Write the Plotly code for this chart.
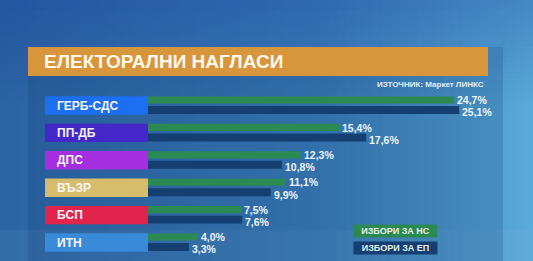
import plotly.graph_objects as go

parties = ["ГЕРБ-СДС", "ПП-ДБ", "ДПС", "ВЪЗР", "БСП", "ИТН"]
party_colors = ["#1c6ff0", "#4526c9", "#a52fe0", "#d6bd6c", "#e0244c", "#3a8ada"]
ns_values = [24.7, 15.4, 12.3, 11.1, 7.5, 4.0]
ep_values = [25.1, 17.6, 10.8, 9.9, 7.6, 3.3]
series_names = ["ИЗБОРИ ЗА НС", "ИЗБОРИ ЗА ЕП"]
series_colors = ["#2b8a52", "#143f70"]
title = "ЕЛЕКТОРАЛНИ НАГЛАСИ"
source = "ИЗТОЧНИК: Маркет ЛИНКС"

W, H = 533, 261
FONT = "Liberation Sans"

def fmt(v):
    return "<b>" + f"{v:.1f}".replace(".", ",") + "%</b>"

idx = list(range(len(parties)))

fig = go.Figure()

annotations = []
# bars
for vals, col, off, wd, lab_dy in [(ns_values, series_colors[0], -0.33, 0.26, -0.19),
                                   (ep_values, series_colors[1], 0.02, 0.29, 0.25)]:
    fig.add_trace(go.Bar(
        x=vals, y=idx, orientation="h",
        marker=dict(color=col, line=dict(width=0)),
        offset=off, width=wd,
        xaxis="x", yaxis="y", showlegend=False, cliponaxis=False,
    ))
    for i, v in enumerate(vals):
        annotations.append(dict(text=fmt(v), xref="x", yref="y", x=v, y=i + lab_dy,
                                xanchor="left", yanchor="middle", xshift=2,
                                showarrow=False, borderpad=0,
                                font=dict(family=FONT, size=10.5, color="#eef4fa")))

# party label boxes
fig.add_trace(go.Bar(
    x=[1] * len(parties), y=idx, orientation="h",
    marker=dict(color=party_colors, line=dict(width=0)),
    width=0.67, xaxis="x2", yaxis="y", showlegend=False,
))

shapes = []
def lerp(a, b, t):
    return tuple(int(round(a[i] + (b[i] - a[i]) * t)) for i in range(3))
left_c, mid_c, right_c = (44, 100, 164), (58, 126, 186), (88, 170, 216)
N = 60
for k in range(N):
    t = k / (N - 1)
    c = lerp(left_c, mid_c, t / 0.6) if t < 0.6 else lerp(mid_c, right_c, (t - 0.6) / 0.4)
    shapes.append(dict(type="rect", xref="paper", yref="paper",
                       x0=k / N, x1=(k + 1) / N + 0.002, y0=0, y1=1,
                       fillcolor="rgb(%d,%d,%d)" % c, line=dict(width=0), layer="below"))
M = 20
for k in range(M):
    a = 0.28 * (1 - k / M)
    shapes.append(dict(type="rect", xref="paper", yref="paper",
                       x0=0, x1=1, y0=1 - (k + 1) * 0.02, y1=1 - k * 0.02,
                       fillcolor="rgba(20,50,150,%.3f)" % a, line=dict(width=0), layer="below"))
shapes.append(dict(type="rect", xref="paper", yref="paper", x0=0, x1=1, y0=0, y1=0.12,
                   fillcolor="rgba(140,190,225,0.10)", line=dict(width=0), layer="below"))
shapes.append(dict(type="rect", xref="paper", yref="paper",
                   x0=28 / W, x1=503 / W, y0=0, y1=1 - 47 / H,
                   fillcolor="rgba(25,65,120,0.22)", line=dict(width=0), layer="below"))
shapes.append(dict(type="rect", xref="paper", yref="paper",
                   x0=28 / W, x1=488 / W, y0=1 - 76 / H, y1=1 - 47 / H,
                   fillcolor="#d8963c", line=dict(width=0), layer="below"))

annotations += [
    dict(text="<b>" + title + "</b>", xref="paper", yref="paper", x=42 / W, y=1 - 61.5 / H,
         xanchor="left", yanchor="middle", showarrow=False,
         font=dict(family=FONT, size=19, color="#fff8ec")),
    dict(text="<b>" + source + "</b>", xref="paper", yref="paper", x=486 / W, y=1 - 84 / H,
         xanchor="right", yanchor="middle", showarrow=False,
         font=dict(family=FONT, size=8, color="#e4eef6")),
]
for i, p in enumerate(parties):
    annotations.append(dict(text="<b>" + p + "</b>", xref="paper", yref="y",
                            x=55 / W, y=i, xanchor="left", yanchor="middle",
                            showarrow=False,
                            font=dict(family=FONT, size=12, color="#f4f4f4")))
leg_y = [230.5, 247.5]
for name, col, yy in zip(series_names, series_colors, leg_y):
    annotations.append(dict(text="<b>" + name + "</b>", xref="paper", yref="paper",
                            x=353 / W, y=1 - yy / H, xanchor="left", yanchor="middle",
                            showarrow=False, bgcolor=col, width=81, height=10,
                            align="center", borderpad=1,
                            font=dict(family=FONT, size=9, color="#e8f2ea")))

px_per = 12.4
x0px = 148
yc0, ystep = 105.5, 27.4

fig.update_layout(
    width=W, height=H, margin=dict(l=0, r=0, t=0, b=0),
    paper_bgcolor="#3a7eb8", plot_bgcolor="rgba(0,0,0,0)",
    barmode="overlay", shapes=shapes, annotations=annotations,
    xaxis=dict(domain=[x0px / W, 1], range=[0, (W - x0px) / px_per],
               visible=False, fixedrange=True),
    xaxis2=dict(domain=[45 / W, x0px / W], range=[0, 1], visible=False,
                anchor="y", fixedrange=True),
    yaxis=dict(domain=[0, 1], range=[(H - yc0) / ystep, -yc0 / ystep],
               visible=False, fixedrange=True),
)

fig.write_html("out.html")
